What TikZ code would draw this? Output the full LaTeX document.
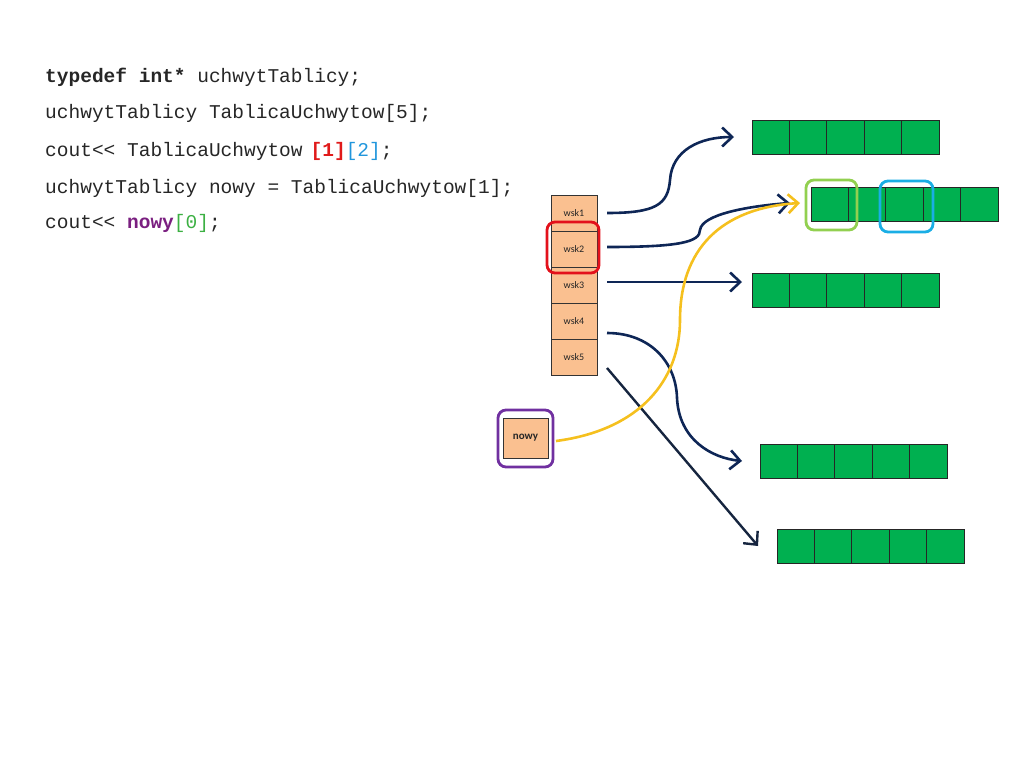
\documentclass[tikz,border=0pt]{standalone}
\usepackage{fontspec}
\usetikzlibrary{arrows.meta}
\newfontfamily\codefont{Liberation Mono}
\newfontfamily\labelfont{Carlito}

\definecolor{arrgreen}{HTML}{00B050}
\definecolor{ptrorange}{HTML}{FAC090}
\definecolor{navyline}{HTML}{0E2656}
\definecolor{darkline}{HTML}{16253F}
\definecolor{goldline}{HTML}{F5C01E}
\definecolor{hlred}{HTML}{E3111B}
\definecolor{hlpurple}{HTML}{7030A0}
\definecolor{hlgreen}{HTML}{92D050}
\definecolor{hlblue}{HTML}{1AAEE5}
\definecolor{codered}{HTML}{E01A1A}
\definecolor{codeblue}{HTML}{2196DC}
\definecolor{codepurple}{HTML}{7A1F80}
\definecolor{codegreen}{HTML}{3CB043}

\begin{document}
\begin{tikzpicture}[x=1pt,y=-1pt,
  code/.style={anchor=base west, inner sep=0, font=\codefont\fontsize{19.5}{22}\selectfont, text=black!85},
  cell/.style={draw=black!85, fill=arrgreen, minimum width=37.4pt, minimum height=34pt,
    inner sep=0, outer sep=0, line width=0.9pt},
  ptr/.style={draw=black!80, fill=ptrorange, minimum width=46pt, minimum height=36pt,
    inner sep=0, outer sep=0, line width=0.8pt, text=black!85,
    font=\labelfont\fontsize{10}{11}\selectfont},
  hlframe/.style={rounded corners=8pt, line width=2.8pt},
  tip/.style={-{Straight Barb[length=10pt,width=19pt]}},
  link/.style={tip, draw=navyline, line width=2.6pt},
]
\useasboundingbox (0,0) rectangle (1024,768);

% source code listing
\node[code] (code1) at (45,82) {\bfseries typedef int*\mdseries{} uchwytTablicy;};
\node[code] (code2) at (45,118) {uchwytTablicy TablicaUchwytow[5];};
\node[code] (code3) at (45,156) {cout<< TablicaUchwytow\hspace{8pt}{\bfseries\color{codered}[1]}{\color{codeblue}[2]};};
\node[code] (code4) at (45,193) {uchwytTablicy nowy = TablicaUchwytow[1];};
\node[code] (code5) at (45,228) {cout<< {\bfseries\color{codepurple}nowy}{\color{codegreen}[0]};};

% array of pointers
\foreach \i in {1,...,5}
  \node[ptr] (w\i) at (574,{195+36*\i-18}) {wsk\i};

% the separate pointer
\node[ptr, minimum width=45pt, minimum height=40pt, font=\labelfont\bfseries\fontsize{11}{12}\selectfont]
  (nowy) at (525.5,438) {nowy};

% five int arrays
\foreach \a/\x/\y in {1/752/120, 2/811/187, 3/752/273, 4/760/444, 5/777/529}
  \foreach \c in {1,...,5}
    \node[cell] (a\a c\c) at ({\x+18.7+37.4*(\c-1)},{\y+17}) {};

% highlight frames
\draw[hlframe, hlred] (547,222) rectangle (599,273);
\draw[hlframe, hlpurple] (498,410) rectangle (553,467);
\draw[hlframe, hlgreen] (806,180) rectangle (857,230);
\draw[hlframe, hlblue] (880,181) rectangle (933,232);

% pointer targets
\coordinate (s1) at ([xshift=10pt]w1.east);
\coordinate (s2) at ([xshift=10pt,yshift=2pt]w2.east);
\coordinate (s3) at ([xshift=10pt,yshift=3pt]w3.east);
\coordinate (s4) at ([xshift=10pt,yshift=-12pt]w4.east);
\coordinate (s5) at ([xshift=10pt,yshift=-11pt]w5.east);
\coordinate (t1) at ([xshift=-18pt]a1c1.west);
\coordinate (t2) at ([xshift=-21pt,yshift=1pt]a2c1.west);
\coordinate (t3) at ([xshift=-10pt,yshift=8pt]a3c1.west);
\coordinate (t4) at ([xshift=-18pt]a4c1.west);
\coordinate (t5) at ([xshift=-19pt]a5c1.west);
\coordinate (sn) at ([xshift=8pt,yshift=-3pt]nowy.east);
\coordinate (tn) at ([xshift=-11pt,yshift=1pt]a2c1.west);

\draw[link] (s1) .. controls (655,213) and (668,205) .. (670,180)
  .. controls (672,150) and (700,137) .. (t1);
\draw[link] (s2) .. controls (680,247) and (700,242) .. (700,230)
  .. controls (702,214) and (750,206) .. (t2);
\draw[link] (s3) -- (t3);
\draw[link] (s4) .. controls (650,333) and (676,362) .. (677,398)
  .. controls (679,440) and (712,458) .. (t4);
\draw[tip, draw=darkline, line width=2.4pt] (s5) -- (t5);
\draw[tip, draw=goldline, line width=2.6pt] (sn) .. controls (640,430) and (680,380) .. (680,320)
  .. controls (680,250) and (720,208) .. (tn);
\end{tikzpicture}
\end{document}
